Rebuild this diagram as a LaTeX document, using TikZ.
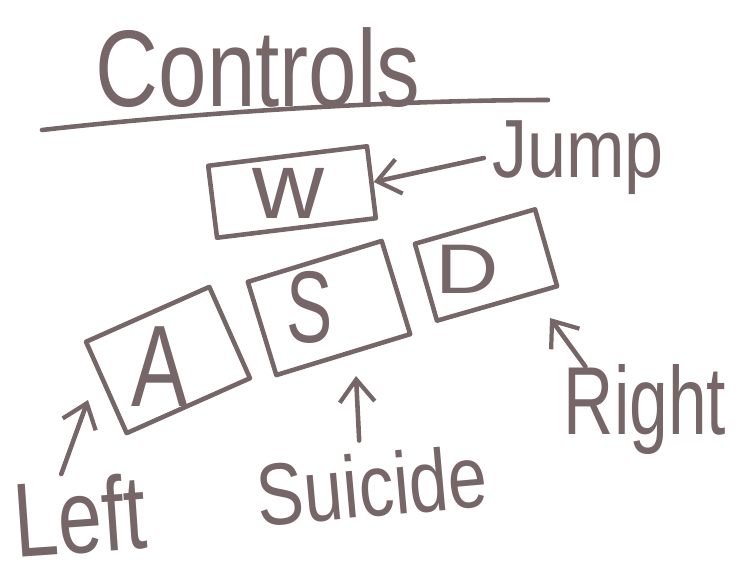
\documentclass[tikz,border=0pt]{standalone}
\usepackage{fontspec}
\setmainfont{Liberation Sans}
\usetikzlibrary{arrows.meta,positioning,calc}
\definecolor{sketchink}{HTML}{766667}
\tikzstyle{keycap} = [rectangle, draw=sketchink, line width=2.6pt, line join=round, inner sep=0pt]
\tikzstyle{keyletter} = [text=sketchink, inner sep=0pt]
\tikzstyle{hint} = [text=sketchink, inner sep=0pt]
\tikzstyle{pointer} = [-{Straight Barb[length=4.5mm, width=7mm, line width=2.4pt]}, line width=2.6pt, line cap=round, sketchink]

\begin{document}
\begin{tikzpicture}[x=0.02cm, y=-0.02cm]
\useasboundingbox (0,0) rectangle (739,579);
% title
\node[hint, font=\fontsize{62}{62}\selectfont] (title) at (258,68) {\scalebox{0.8}[1]{Controls}};
\draw[line width=2.6pt, line cap=round, sketchink] (42,130) .. controls (200,112) and (400,100) .. (548,100);

% keys
\node[keycap, minimum width=3.2cm, minimum height=1.45cm, rotate=7] (keyW) at (292,192) {};
\node[keycap, minimum width=2.7cm, minimum height=2.0cm, rotate=24] (keyA) at (168,360) {};
\node[keycap, minimum width=2.8cm, minimum height=1.95cm, rotate=17] (keyS) at (329,308) {};
\node[keycap, minimum width=2.5cm, minimum height=1.6cm, rotate=16] (keyD) at (486,265) {};

\node[keyletter, font=\fontsize{54}{54}\selectfont] (letW) at (288,193) {\scalebox{1.05}[1]{w}};
\node[keyletter, font=\fontsize{66}{66}\selectfont] (letA) at (160,367) {\scalebox{0.73}[1]{A}};
\node[keyletter, font=\fontsize{58}{58}\selectfont] (letS) at (310,307) {\scalebox{0.68}[1]{S}};
\node[keyletter, font=\fontsize{40}{40}\selectfont] (letD) at (467,269) {\scalebox{1.25}[1]{D}};

% labels
\node[hint, font=\fontsize{47}{47}\selectfont] (jump) at (578,158) {\scalebox{0.85}[1]{Jump}};
\node[hint, font=\fontsize{60}{60}\selectfont, rotate=4] (left) at (80,515) {\scalebox{0.75}[1]{Left}};
\node[hint, font=\fontsize{50}{50}\selectfont, rotate=5] (suicide) at (372,485) {\scalebox{0.8}[1]{Suicide}};
\node[hint, font=\fontsize{55}{55}\selectfont] (right) at (645,410) {\scalebox{0.72}[1]{Right}};

% arrows
\coordinate (leftTip) at (88,400);
\coordinate (suicideTip) at (356,376);
\coordinate (rightTip) at (550,318);
\draw[pointer] ($(jump.west)+(-8,0)$) -- (keyW.east);
\draw[pointer] ($(left.north)+(-16,-2)$) -- (leftTip);
\draw[pointer] ($(suicide.north)+(-10,-12)$) -- (suicideTip);
\draw[pointer] ($(right.north west)+(22,2)$) -- (rightTip);
\end{tikzpicture}
\end{document}
